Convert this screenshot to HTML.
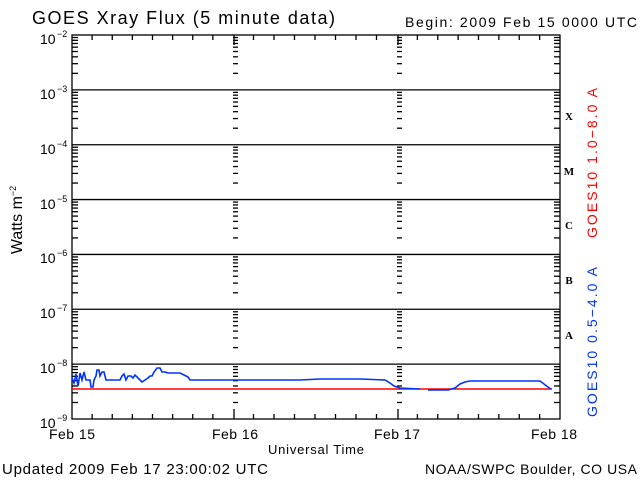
<!DOCTYPE html>
<html><head><meta charset="utf-8"><style>
html,body{margin:0;padding:0;background:#fff;}
svg{display:block;font-family:"Liberation Sans",sans-serif;}
</style></head><body>
<svg id="s" width="640" height="480" viewBox="0 0 640 480" xmlns="http://www.w3.org/2000/svg">
<rect width="640" height="480" fill="#fff"/>
<text x="32" y="24" font-size="18" fill="#000" textLength="303" lengthAdjust="spacing">GOES Xray Flux (5 minute data)</text>
<text x="405" y="27" font-size="14" fill="#000" textLength="232" lengthAdjust="spacing">Begin:  2009 Feb 15 0000 UTC</text>
<g id="grid" stroke="#000" stroke-width="1.3" fill="none"></g>
<g font-size="14" fill="#000">
<text x="40" y="44">10</text><text x="57" y="37" font-size="9">−2</text>
<text x="40" y="99">10</text><text x="57" y="92" font-size="9">−3</text>
<text x="40" y="154">10</text><text x="57" y="147" font-size="9">−4</text>
<text x="40" y="209">10</text><text x="57" y="202" font-size="9">−5</text>
<text x="40" y="263">10</text><text x="57" y="256" font-size="9">−6</text>
<text x="40" y="318">10</text><text x="57" y="311" font-size="9">−7</text>
<text x="40" y="373">10</text><text x="57" y="366" font-size="9">−8</text>
<text x="40" y="428">10</text><text x="57" y="421" font-size="9">−9</text>
</g>
<g font-family="Liberation Serif,serif" font-weight="bold" font-size="11" fill="#000" text-anchor="middle">
<text x="569" y="120">X</text><text x="569" y="175">M</text><text x="569" y="229">C</text><text x="569" y="284">B</text><text x="569" y="339">A</text>
</g>
<text transform="translate(597,163) rotate(-90)" text-anchor="middle" font-size="14" fill="#ff0000" textLength="150" lengthAdjust="spacing">GOES10 1.0−8.0 A</text>
<text transform="translate(597,342) rotate(-90)" text-anchor="middle" font-size="14" fill="#0033ff" textLength="150" lengthAdjust="spacing">GOES10 0.5−4.0 A</text>
<text transform="translate(22,220) rotate(-90)" text-anchor="middle" font-size="16" fill="#000">Watts m<tspan font-size="9" dy="-6">−2</tspan></text>
<g font-size="14" fill="#000" text-anchor="middle">
<text x="72" y="439" textLength="46">Feb 15</text><text x="235" y="439" textLength="46">Feb 16</text><text x="397" y="439" textLength="46">Feb 17</text><text x="554" y="439" textLength="46">Feb 18</text>
</g>
<text x="316" y="454" font-size="13" text-anchor="middle" textLength="96">Universal Time</text>
<text x="2" y="474" font-size="15" textLength="266" lengthAdjust="spacing">Updated 2009 Feb 17 23:00:02 UTC</text>
<text x="425" y="474" font-size="14" textLength="212" lengthAdjust="spacing">NOAA/SWPC Boulder, CO USA</text>
<line x1="72" y1="389" x2="552" y2="389" stroke="#ff0000" stroke-width="1.5"/>
<polyline fill="none" stroke="#0033ff" stroke-width="1.6" points="72,378 74,383 76,374 78,386 79,380 80,373 82,380 84,372 86,380 90,380 91,387 93,387 94,380 96,376 97,370 99,370 100,376 102,372 104,372 106,380 120,380 122,376 124,374 126,380 128,376 131,376 133,378 135,375 138,378 142,382 145,380 148,378 150,376 152,376 154,372 157,368 160,368 162,372 165,372 168,373 180,373 184,375 188,377 190,380 200,380 300,380 320,379 360,379 385,380 390,383 394,386 400,388 420,389"/>
<polyline fill="none" stroke="#0033ff" stroke-width="1.6" points="428,390 448,390 455,388 460,384 465,382 470,381 540,381 544,384 548,387 551,389"/>
</svg>
<script>
var g=document.getElementById('grid'),L=72,R=560,T=35,B=419,D=(B-T)/7,s='';
function ln(a,b,c,d,e){s+='<line x1="'+a+'" y1="'+b+'" x2="'+c+'" y2="'+d+'"'+(e||'')+'/>';}
s+='<rect x="'+L+'" y="'+T+'" width="'+(R-L)+'" height="'+(B-T)+'"/>';
for(var i=1;i<7;i++)ln(L,T+i*D,R,T+i*D);
var days=[72,233,397,560];
for(var d=0;d<7;d++){var y0=T+(d+1)*D;for(var m=2;m<10;m++){var y=y0-Math.log10(m)*D;
ln(L,y,L+6,y);ln(R-6,y,R,y);for(var k=1;k<3;k++)ln(days[k],y,days[k]+5,y);}}
for(var k=0;k<3;k++){for(var h=1;h<8;h++){var x=days[k]+h*(days[k+1]-days[k])/8;ln(x,B,x,B-5);ln(x,T,x,T+5);}}
for(var k=1;k<3;k++){ln(days[k]+1,B,days[k]+1,B-10);ln(days[k]+1,T,days[k]+1,T+10);}
g.innerHTML=s;
</script>
</body></html>
